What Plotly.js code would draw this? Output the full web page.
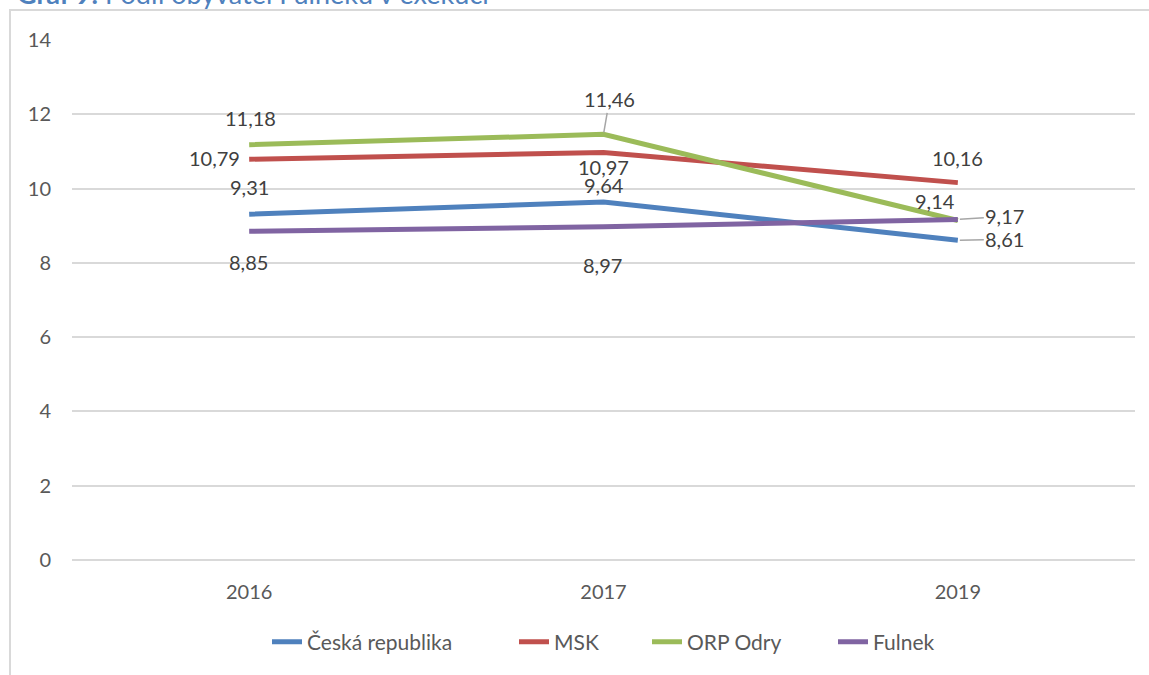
<!DOCTYPE html>
<html>
<head>
<meta charset="utf-8">
<script src="https://cdn.plot.ly/plotly-3.0.1.min.js"></script>
<style>
  body { margin: 0; background: #fff; overflow: hidden; }
  #chart { position: absolute; left: 0; top: 0; width: 1149px; height: 675px; }
  #frame { position: absolute; left: 9px; top: 9px; width: 1160px; height: 700px;
           border: 2px solid #d9d9d9; pointer-events: none; }
</style>
</head>
<body>
<div id="chart"></div>
<div id="frame"></div>
<script>
const years = ['2016', '2017', '2019'];
const seriesNames = ['Česká republika', 'MSK', 'ORP Odry', 'Fulnek'];
const ceskaRepublika = [9.31, 9.64, 8.61];
const msk = [10.79, 10.97, 10.16];
const orpOdry = [11.18, 11.46, 9.14];
const fulnek = [8.85, 8.97, 9.17];
const yTicks = [0, 2, 4, 6, 8, 10, 12, 14];
const titleText = '<b>Graf 9:</b> Podíl obyvatel Fulneku v exekuci';

const allSeries = [ceskaRepublika, msk, orpOdry, fulnek];
const colors = ['#4F81BD', '#C0504D', '#9BBB59', '#8064A2'];

// label placement: [dx px, dy px (up positive), leader line]
const labelPos = [
  [[0, 27, false], [0, 17, false], [47, 1, true]],
  [[-35, 1, false], [0, -14, false], [0, 25, false]],
  [[1, 27, false], [6, 35, true], [-23, 20, false]],
  [[-1, -31, false], [-1, -38, false], [47, 3, true]]
];
// legend entry left edges (px) so texts line up with the reference
const legendLeftPx = [267, 514, 647, 833];

const fmt = v => v.toFixed(2).replace('.', ',');
const FONT = 'Lato, sans-serif';
const PL = 72, PW = 1063, PT = 40, PH = 520;

const legendIds = ['legend', 'legend2', 'legend3', 'legend4'];

const traces = allSeries.map((vals, i) => ({
  x: years.map((_, j) => j), y: vals, type: 'scatter', mode: 'lines', name: seriesNames[i],
  line: { color: colors[i], width: 5 }, legend: legendIds[i]
}));

const annotations = [];
allSeries.forEach((vals, i) => {
  vals.forEach((v, j) => {
    const p = labelPos[i][j];
    const a = {
      x: j, y: v, xref: 'x', yref: 'y', text: fmt(v),
      font: { family: FONT, size: 20, color: '#404040' }
    };
    if (p[2]) {
      Object.assign(a, { showarrow: true, ax: p[0], ay: -p[1], arrowhead: 0,
        arrowwidth: 1.5, arrowcolor: '#a6a6a6', standoff: 2 });
    } else {
      Object.assign(a, { showarrow: false, xshift: p[0], yshift: p[1] });
    }
    annotations.push(a);
  });
});

annotations.push({
  text: titleText, xref: 'paper', yref: 'paper',
  x: (15 - PL) / PW, xanchor: 'left', y: 1 + (PT - 12) / PH, yanchor: 'bottom',
  showarrow: false, font: { family: FONT, size: 27, color: '#4F81BD' }
});

const layout = {
  width: 1149, height: 675,
  margin: { l: PL, r: 1149 - PL - PW, t: PT, b: 675 - PT - PH },
  paper_bgcolor: '#fff', plot_bgcolor: '#fff',
  font: { family: FONT, size: 20, color: '#595959' },
  xaxis: {
    range: [-0.5, 2.5], tickvals: years.map((_, j) => j), ticktext: years,
    showgrid: false, zeroline: false, showline: false, ticks: '', ticklabelstandoff: 18,
    tickfont: { size: 20, color: '#595959' }
  },
  yaxis: {
    range: [0, 14], tickvals: yTicks, showgrid: true, gridcolor: '#d9d9d9',
    gridwidth: 1.5, zeroline: true, zerolinecolor: '#d9d9d9', zerolinewidth: 1.5,
    showline: false, ticks: '', ticklabelstandoff: 20,
    tickfont: { size: 20, color: '#595959' }
  },
  showlegend: true,
  annotations: annotations
};
legendIds.forEach((id, i) => {
  layout[id] = {
    orientation: 'h', x: (legendLeftPx[i] - PL) / PW, xanchor: 'left',
    y: (PT + PH - 642) / PH, yanchor: 'middle',
    font: { family: FONT, size: 21, color: '#595959' }, bgcolor: 'rgba(0,0,0,0)'
  };
});

Plotly.newPlot('chart', traces, layout, { displayModeBar: false });
</script>
</body>
</html>
